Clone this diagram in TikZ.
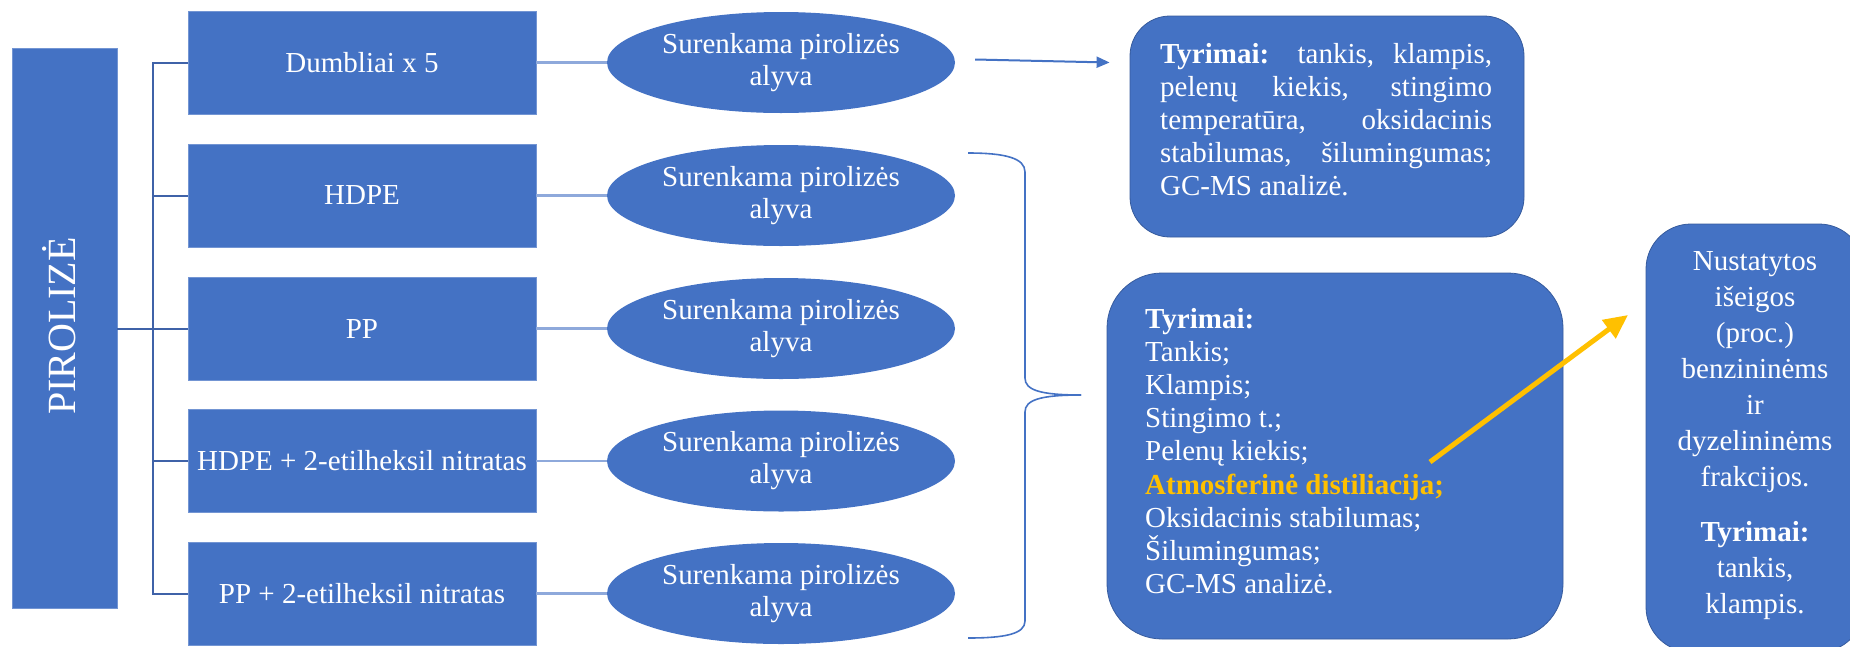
\documentclass[tikz,border=0pt]{standalone}
\usepackage{fontspec}
\setmainfont{Liberation Serif}
\usetikzlibrary{shapes.geometric,arrows.meta,calc}
\definecolor{obl}{HTML}{4472C4}
\definecolor{ldk}{HTML}{3F62A8}
\definecolor{llt}{HTML}{8EA9DB}
\definecolor{oy}{HTML}{FFC000}
\begin{document}
\begin{tikzpicture}[x=1pt,y=-1pt,
  sbox/.style={rectangle, fill=obl, draw=obl!75!white, line width=0.8pt, minimum width=348pt, minimum height=103pt, inner sep=0pt, text=white, font=\fontsize{29}{33}\selectfont},
  oil/.style={ellipse, fill=obl, minimum width=348pt, minimum height=101pt, inner sep=0pt, text=white, align=center, font=\fontsize{29}{32}\selectfont},
  rbox/.style={rectangle, fill=obl, draw=obl!80!black, line width=0.8pt, inner sep=0pt},
  bline/.style={draw=ldk, line width=2pt},
  cline/.style={draw=llt, line width=2.5pt},
  arr/.style={draw=obl, line width=2pt, -{Triangle[length=13pt,width=11pt]}},
  bracestyle/.style={draw=obl, line width=1.6pt},
  yarr/.style={draw=oy, line width=5pt, -{Triangle[length=24pt,width=22pt]}},
  txt/.style={inner sep=0pt, text=white}
]
\useasboundingbox (0,0) rectangle (1850,646);

% PIROLIZE
\node[rectangle, fill=obl, draw=obl!75!white, line width=0.8pt, minimum width=105pt, minimum height=560pt, inner sep=0pt] (pbox) at (64.5,328.5) {};
\node[txt, rotate=90, text height=28pt, text depth=0pt, font=\fontsize{40}{40}\selectfont] (ptext) at (61,326) {PIROLIZĖ};

% boxes
\node[sbox] (b1) at (362,62.5) {Dumbliai x 5};
\node[sbox] (b2) at (362,195.5) {HDPE};
\node[sbox] (b3) at (362,328.5) {PP};
\node[sbox] (b4) at (362,461) {HDPE + 2-etilheksil nitratas};
\node[sbox] (b5) at (362,593.5) {PP + 2-etilheksil nitratas};

% ellipses
\node[oil] (e1) at (781,62.5) {Surenkama pirolizės\\alyva};
\node[oil] (e2) at (781,195.5) {Surenkama pirolizės\\alyva};
\node[oil] (e3) at (781,328.5) {Surenkama pirolizės\\alyva};
\node[oil] (e4) at (781,461) {Surenkama pirolizės\\alyva};
\node[oil] (e5) at (781,593.5) {Surenkama pirolizės\\alyva};

% bracket from PIROLIZE
\draw[bline] (b1.west) -- ++(-35,0) |- (b5.west);
\draw[bline] (b2.west) -- ++(-35,0);
\draw[bline] (b4.west) -- ++(-35,0);
\draw[bline] (pbox) -- (b3);

% box -> ellipse
\foreach \i in {1,...,5} { \draw[cline] (b\i) -- (e\i); }

% top-right box
\node[rbox, minimum width=394pt, minimum height=221pt, rounded corners=40pt] (rtop) at (1327,126.5) {};
\node[txt, anchor=base west] (rtoptext) at (1160,63) {\parbox[t]{332pt}{\fontsize{29}{33}\selectfont
\makebox[332pt][s]{\textbf{Tyrimai:} tankis, klampis,}\\
\makebox[332pt][s]{pelenų kiekis, stingimo}\\
\makebox[332pt][s]{temperatūra, oksidacinis}\\
\makebox[332pt][s]{stabilumas, šilumingumas;}\\
GC-MS analizė.}};

% arrow to top-right box
\draw[arr] ([xshift=20pt,yshift=3pt]e1.east) -- ([xshift=-20pt]rtop.west |- e1.east);

% middle box
\node[rbox, minimum width=456pt, minimum height=366pt, rounded corners=55pt] (rmid) at (1335,456) {};
\node[txt, anchor=base west] (rmidtext) at (1145,328) {\parbox[t]{400pt}{\raggedright\fontsize{29}{33.2}\selectfont
\textbf{Tyrimai:}\\
Tankis;\\
Klampis;\\
Stingimo t.;\\
Pelenų kiekis;\\
\textcolor{oy}{\textbf{Atmosferinė distiliacija;}}\\
Oksidacinis stabilumas;\\
Šilumingumas;\\
GC-MS analizė.}};

% brace
\coordinate (brtop) at (968,153);
\coordinate (brtip) at (1081,395);
\coordinate (brbot) at (968,638);
\draw[bracestyle] (brtop) .. controls (1005,153) and (1025,158) .. (1025,172) -- (1025,378) .. controls (1025,390) and (1040,395) .. (brtip);
\draw[bracestyle] (brtip) .. controls (1040,395) and (1025,400) .. (1025,412) -- (1025,621) .. controls (1025,634) and (1005,638) .. (brbot);

% right box
\node[rbox, minimum width=218pt, minimum height=428pt, rounded corners=45pt] (rright) at (1755,438) {};
\node[txt, anchor=base] (rrighttext) at (1755,270) {\parbox[t]{210pt}{\centering\fontsize{29}{36}\selectfont
Nustatytos\\
išeigos\\
(proc.)\\
benzininėms\\
ir\\
dyzelininėms\\
frakcijos.\\[19pt]
\textbf{Tyrimai:}\\
tankis,\\
klampis.}};

% yellow arrow
\coordinate (ys) at (1430,462);
\coordinate (ye) at (1628,315);
\draw[yarr] (ys) -- (ye);
\end{tikzpicture}
\end{document}
